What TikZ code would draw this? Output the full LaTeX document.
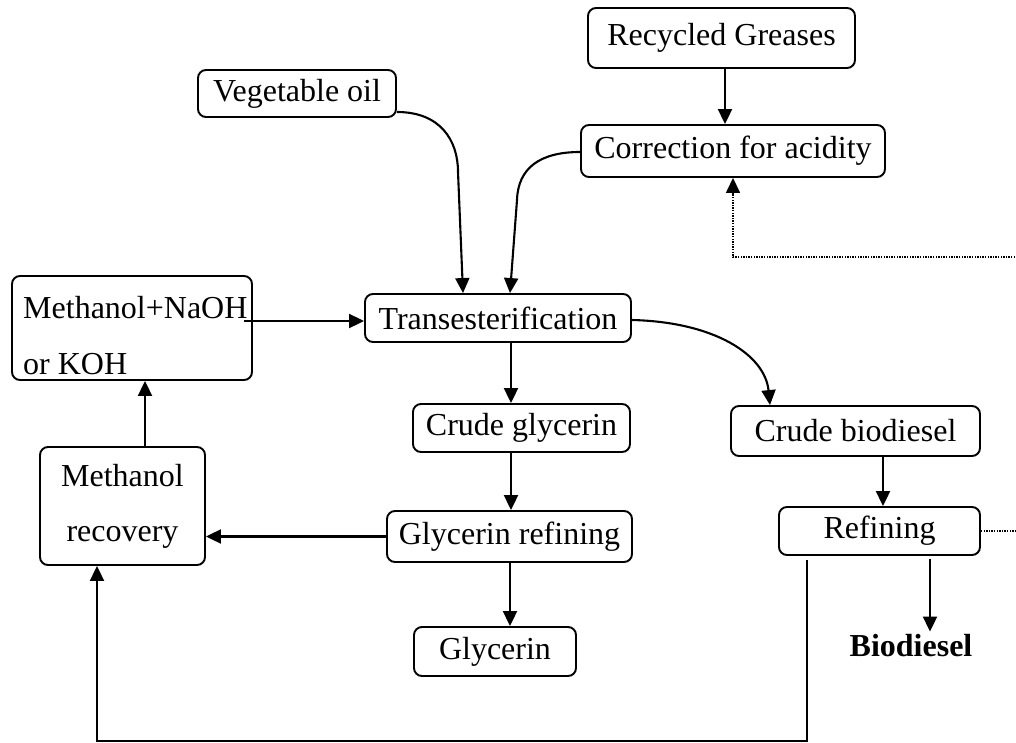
\documentclass[tikz,border=0pt]{standalone}
\usepackage{fontspec}
\setmainfont{Liberation Serif}
\usetikzlibrary{arrows.meta,calc}
\begin{document}
\begin{tikzpicture}[x=1pt,y=-1pt,
  box/.style={draw, line width=1.9pt, rounded corners=8pt, inner sep=0pt, font=\fontsize{32}{38}\selectfont},
  txt/.style={inner sep=0pt, font=\fontsize{32}{38}\selectfont},
  arr/.style={line width=2.1pt, -{Triangle[length=15pt,width=14pt]}},
  dotln/.style={line width=1.5pt, dash pattern=on 1.4pt off 1.2pt, -{Triangle[length=15pt,width=14pt]}}]
\useasboundingbox (0,0) rectangle (1016,743);
\clip (0,0) rectangle (1016,743);
% nodes
\node[box, minimum width=267, minimum height=60] (greases) at (721.5,38) {Recycled Greases};
\node[box, minimum width=198, minimum height=47] (vegoil) at (297,93.5) {Vegetable oil};
\node[box, minimum width=304, minimum height=52] (acid) at (733,151) {Correction for acidity};
\node[box, minimum width=240, minimum height=104] (meth) at (132,328) {};
\node[txt, align=left, anchor=west] (methtxt) at (23,336) {Methanol+NaOH\\[18pt]or KOH};
\node[box, minimum width=266, minimum height=48] (trans) at (498,318) {Transesterification};
\node[box, minimum width=217, minimum height=48] (cglyc) at (521.5,428) {Crude glycerin};
\node[box, minimum width=249, minimum height=50] (cbio) at (855.5,431) {Crude biodiesel};
\node[box, minimum width=165, minimum height=118, align=center] (mrec) at (122.5,506) {Methanol\\[17pt]recovery};
\node[box, minimum width=245, minimum height=51] (grefine) at (509.5,536.5) {Glycerin refining};
\node[box, minimum width=201, minimum height=48] (refine) at (879.5,531) {Refining};
\node[box, minimum width=162, minimum height=49] (glyc) at (495,651.5) {Glycerin};
\node[txt, font=\fontsize{32}{38}\selectfont\bfseries] (bio) at (911,646) {Biodiesel};
% helper coordinates
\coordinate (bl) at (97,741);
\coordinate (br) at (807,741);
\coordinate (dr) at (1030,531);
\coordinate (dt) at (1030,257);
% connectors
\draw[arr] ($(greases.south)+(3.5,0)$) coordinate (g1) -- (g1 |- acid.north);
\draw[arr] ($(vegoil.east)+(0,18.5)$) .. controls (440,112) and (458,140) .. (458,172) -- ($(trans.north)+(-35,0)$);
\draw[arr] ($(acid.west)+(0,1)$) .. controls (540,152) and (518,168) .. (517,200) -- ($(trans.north)+(12,0)$);
\draw[arr] ($(meth.east)+(-9,-7)$) -- ($(trans.west)+(0,3)$);
\draw[arr] ($(mrec.north)+(22.5,0)$) coordinate (m1) -- (m1 |- meth.south);
\draw[arr] ($(trans.south)+(13,0)$) coordinate (t1) -- (t1 |- cglyc.north);
\draw[arr] ($(trans.east)+(0,2)$) .. controls (715,322) and (765,355) .. ($(cbio.north)+(-85.5,0)$);
\draw[arr] ($(cglyc.south)+(-10.5,0)$) coordinate (c1) -- (c1 |- grefine.north);
\draw[arr] ($(grefine.south)+(0.5,0)$) coordinate (r1) -- (r1 |- glyc.north);
\draw[arr] (grefine.west) -- (grefine.west -| mrec.east);
\draw[arr] ($(cbio.south)+(27.5,0)$) coordinate (b1) -- (b1 |- refine.north);
\draw[arr] ($(refine.south)+(50.5,3)$) coordinate (f1) -- ($(f1 |- bio.north)+(0,-3)$);
\draw[arr] ($(refine.south)+(-72.5,4)$) coordinate (f2) -- (f2 |- br) -- (bl) -- (bl |- mrec.south);
\draw[dotln] (refine.east) -- (refine.east -| dr) -- (dt) -- (dt -| acid.south) -- (acid.south);
\end{tikzpicture}
\end{document}
